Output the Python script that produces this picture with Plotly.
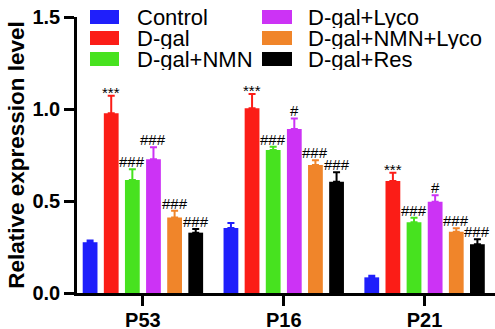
import plotly.graph_objects as go

genes = ["P53", "P16", "P21"]
groups = ["Control", "D-gal", "D-gal+NMN", "D-gal+Lyco", "D-gal+NMN+Lyco", "D-gal+Res"]
colors = ["#1f1ffb", "#fb1d17", "#47e21f", "#cc33f5", "#f0852a", "#000000"]

means = {
    "Control":        [0.276, 0.353, 0.085],
    "D-gal":          [0.977, 1.004, 0.609],
    "D-gal+NMN":      [0.614, 0.777, 0.384],
    "D-gal+Lyco":     [0.727, 0.891, 0.496],
    "D-gal+NMN+Lyco": [0.411, 0.696, 0.333],
    "D-gal+Res":      [0.328, 0.605, 0.265],
}
errors = {
    "Control":        [0.009, 0.027, 0.009],
    "D-gal":          [0.095, 0.077, 0.045],
    "D-gal+NMN":      [0.058, 0.018, 0.025],
    "D-gal+Lyco":     [0.065, 0.058, 0.035],
    "D-gal+NMN+Lyco": [0.036, 0.026, 0.019],
    "D-gal+Res":      [0.020, 0.051, 0.027],
}
marks = {
    "Control":        ["", "", ""],
    "D-gal":          ["***", "***", "***"],
    "D-gal+NMN":      ["###", "###", "###"],
    "D-gal+Lyco":     ["###", "#", "#"],
    "D-gal+NMN+Lyco": ["###", "###", "###"],
    "D-gal+Res":      ["###", "###", "###"],
}

BARGAP = 0.1
FONT = "Liberation Sans, Arial, sans-serif"

fig = go.Figure()
for g, c in zip(groups, colors):
    fig.add_trace(go.Bar(
        name=g, x=genes, y=means[g], marker=dict(color=c, line=dict(width=0)),
        error_y=dict(type="data", array=errors[g], arrayminus=[0]*len(genes),
                     symmetric=False, color=c, thickness=2, width=3.5),
        showlegend=False,
    ))

# significance marks above error bars
n = len(groups)
slot = (1 - BARGAP) / n
annotations = []
for i, g in enumerate(groups):
    for j, gene in enumerate(genes):
        m = marks[g][j]
        if m:
            annotations.append(dict(
                x=j + (i - (n - 1) / 2) * slot, y=means[g][j] + errors[g][j],
                xref="x", yref="y", text=m, showarrow=False,
                xanchor="center", yanchor="bottom",
                yshift=-7 if m.startswith("*") else -3,
                font=dict(family=FONT, size=15, color="#000"),
            ))

# manual legend (two columns of three)
W, H, L, T = 495, 329, 77, 17
PW, PH = W - L, 293 - T
def px(x):
    return (x - L) / PW
def py(y):
    return 1 - (y - T) / PH

shapes = []
col_sw = [(90, 119, 136), (262, 292, 307)]
row_c = [17, 38, 59]
for k, (g, c) in enumerate(zip(groups, colors)):
    col, row = divmod(k, 3)
    x0, x1, xt = col_sw[col]
    yc = row_c[row]
    shapes.append(dict(type="rect", xref="paper", yref="paper",
                       x0=px(x0), x1=px(x1), y0=py(yc + 7), y1=py(yc - 7),
                       fillcolor=c, line=dict(width=0)))
    annotations.append(dict(x=px(xt), y=py(yc), xref="paper", yref="paper",
                            text=g, showarrow=False, xanchor="left", yanchor="middle",
                            height=21, borderpad=0, valign="middle",
                            font=dict(family=FONT, size=22, color="#000")))

fig.update_layout(
    width=W, height=H, margin=dict(l=L, r=0, t=T, b=H - 293),
    paper_bgcolor="white", plot_bgcolor="white",
    barmode="group", bargap=BARGAP, bargroupgap=0.3,
    font=dict(family=FONT, color="#000"),
    annotations=annotations, shapes=shapes,
)
fig.update_xaxes(
    range=[-0.468, 2.5], showline=True, linecolor="#000", linewidth=2.5,
    ticks="outside", ticklen=10, tickwidth=2.5, tickcolor="#000",
    automargin=False, ticklabelstandoff=-3,
    tickfont=dict(family=FONT, size=20, weight="bold"), showgrid=False, zeroline=False,
)
fig.update_yaxes(
    range=[0, 1.5], tickvals=[0, 0.5, 1.0, 1.5], tickformat=".1f",
    showline=True, linecolor="#000", linewidth=2.5, automargin=False,
    ticks="outside", ticklen=10, tickwidth=2.5, tickcolor="#000",
    tickfont=dict(family=FONT, size=20, weight="bold"), showgrid=False, zeroline=False,
    title=dict(text="Relative expression level", standoff=2,
               font=dict(family=FONT, size=22.5, weight="bold")),
)

fig.write_html("out.html")
